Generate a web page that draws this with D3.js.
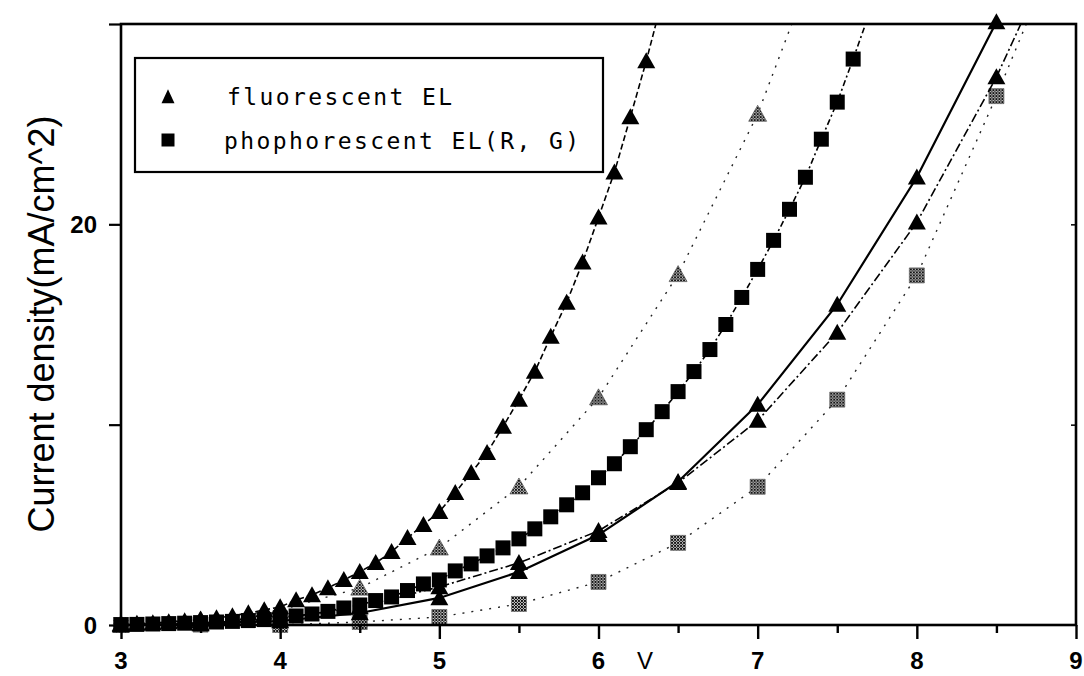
<!DOCTYPE html>
<html lang="en">
<head>
<meta charset="utf-8">
<script src="https://d3js.org/d3.v7.min.js"></script>
<style>
  body { margin: 0; background: #fff; }
  svg { display: block; }
  .tick-label { font-family: "Liberation Sans", Arial, sans-serif; font-weight: bold; font-size: 24px; }
  .legend-text { font-family: "DejaVu Sans Mono", monospace; font-size: 23px; letter-spacing: 2.4px; }
</style>
</head>
<body>
<script>

// fluorescent EL, fine voltage sweep (black triangles, dashed)
var fluorV = [3.0,3.1,3.2,3.3,3.4,3.5,3.6,3.7,3.8,3.9,4.0,4.1,4.2,4.3,4.4,4.5,4.6,4.7,4.8,4.9,
              5.0,5.1,5.2,5.3,5.4,5.5,5.6,5.7,5.8,5.9,6.0,6.1,6.2,6.3,6.4];
var fluorJ = [0.05,0.07,0.1,0.15,0.2,0.28,0.35,0.45,0.6,0.75,0.9,1.25,1.5,1.85,2.25,2.65,3.1,3.65,4.35,5.0,
              5.65,6.6,7.6,8.6,9.9,11.25,12.65,14.4,16.1,18.1,20.35,22.6,25.35,28.15,31.2];

// phophorescent EL (R, G), fine sweep (black squares)
var phosV = [3.0,3.1,3.2,3.3,3.4,3.5,3.6,3.7,3.8,3.9,4.0,4.1,4.2,4.3,4.4,4.5,4.6,4.7,4.8,4.9,
             5.0,5.1,5.2,5.3,5.4,5.5,5.6,5.7,5.8,5.9,6.0,6.1,6.2,6.3,6.4,6.5,6.6,6.7,6.8,6.9,
             7.0,7.1,7.2,7.3,7.4,7.5,7.6,7.7];
var phosJ = [0.02,0.03,0.05,0.07,0.09,0.12,0.15,0.18,0.22,0.27,0.35,0.45,0.55,0.68,0.85,1.0,1.22,1.4,1.72,2.05,
             2.25,2.7,3.05,3.45,3.85,4.3,4.8,5.4,6.0,6.6,7.35,8.05,8.9,9.75,10.65,11.65,12.65,13.75,15.0,16.35,
             17.75,19.2,20.75,22.35,24.25,26.1,28.25,30.5];

// coarse sweeps, 0.5 V steps
var coarseV = [3.0,3.5,4.0,4.5,5.0,5.5,6.0,6.5,7.0,7.5,8.0,8.5,9.0];
var grayTriJ = [0.05,0.25,0.75,1.85,3.85,6.9,11.35,17.5,25.5,36.0];
var solidTriJ = [0.0,0.05,0.2,0.6,1.35,2.65,4.5,7.15,11.0,16.0,22.35,30.1];
var dashTriJ = [0.0,0.08,0.3,0.9,1.9,3.1,4.7,7.1,10.2,14.6,20.1,27.35,36.0];
var graySqJ = [0.0,0.02,0.0,0.15,0.4,1.05,2.15,4.1,6.9,11.25,17.45,26.4,36.0];

var xTicks = [3,4,5,6,7,8,9];
var yTicks = [0,10,20,30];
var yLabels = [0,20];

const w = 1084, h = 676;
const pLeft = 121, pRight = 1076, pTop = 24, pBottom = 625;

const x = d3.scaleLinear().domain([3, 9]).range([pLeft, pRight]);
const y = d3.scaleLinear().domain([0, 30]).range([pBottom, pTop]);

const svg = d3.select("body").append("svg").attr("width", w).attr("height", h);

const defs = svg.append("defs");
defs.append("clipPath").attr("id", "plot")
  .append("rect").attr("x", pLeft).attr("y", pTop).attr("width", pRight - pLeft).attr("height", pBottom - pTop);
const pat = defs.append("pattern").attr("id", "hatch")
  .attr("patternUnits", "userSpaceOnUse").attr("width", 3).attr("height", 3);
pat.append("rect").attr("width", 3).attr("height", 3).attr("fill", "#c8c8c8");
pat.append("path").attr("d", "M0,0L3,3M3,0L0,3").attr("stroke", "#000").attr("stroke-width", 0.9);

function zip(vs, js) {
  return js.map((j, i) => ({v: vs[i], j: j}));
}

// slightly flat triangle, like the plotter glyph
function triPath(wd, ht) {
  return "M0," + (-ht * 0.55) + "L" + (wd / 2) + "," + (ht * 0.45) + "L" + (-wd / 2) + "," + (ht * 0.45) + "Z";
}
function sqPath(s) {
  return "M" + (-s / 2) + "," + (-s / 2) + "h" + s + "v" + s + "h" + (-s) + "Z";
}

const series = [
  {data: zip(coarseV, graySqJ), dash: "2,7", width: 1.4, color: "#222", shape: "sq", fill: "url(#hatch)"},
  {data: zip(coarseV, grayTriJ), dash: "2,7", width: 1.4, color: "#222", shape: "tri", fill: "url(#hatch)"},
  {data: zip(coarseV, dashTriJ), dash: "9,3,2,3", width: 1.6, color: "#000", shape: "tri", fill: "#000"},
  {data: zip(coarseV, solidTriJ), dash: null, width: 2.2, color: "#000", shape: "tri", fill: "#000"},
  {data: zip(phosV, phosJ), dash: "6,3,2,3", width: 1.6, color: "#000", shape: "sq", fill: "#000"},
  {data: zip(fluorV, fluorJ), dash: "6,3", width: 1.6, color: "#000", shape: "tri", fill: "#000"}
];

const line = d3.line().x(d => x(d.v)).y(d => y(d.j));

series.forEach(s => {
  svg.append("path")
    .datum(s.data)
    .attr("clip-path", "url(#plot)")
    .attr("fill", "none")
    .attr("stroke", s.color)
    .attr("stroke-width", s.width)
    .attr("stroke-dasharray", s.dash)
    .attr("d", line);

  svg.append("g").selectAll("path")
    .data(s.data.filter(d => d.j <= 30.2))
    .enter()
    .append("path")
    .attr("transform", d => "translate(" + x(d.v) + "," + y(d.j) + ")")
    .attr("d", s.shape == "tri" ? triPath(18, 16) : sqPath(15))
    .attr("fill", s.fill)
    .attr("stroke", s.fill == "#000" ? "none" : "#444")
    .attr("stroke-width", 0.6);
});

// frame
svg.append("rect")
  .attr("x", pLeft).attr("y", pTop)
  .attr("width", pRight - pLeft).attr("height", pBottom - pTop)
  .attr("fill", "none").attr("stroke", "#000").attr("stroke-width", 2.6);

// x axis
const xAxis = d3.axisBottom(x)
  .tickValues(d3.range(3, 9.01, 0.5))
  .tickSize(0)
  .tickFormat("");
const gx = svg.append("g").attr("transform", "translate(0," + pBottom + ")").call(xAxis);
gx.select(".domain").remove();
gx.selectAll(".tick line")
  .attr("y2", d => Number.isInteger(d) ? 14 : 8)
  .attr("stroke-width", 2.4);
svg.append("g").selectAll("text")
  .data(xTicks)
  .enter()
  .append("text")
  .attr("class", "tick-label")
  .attr("x", d => x(d))
  .attr("y", 669)
  .attr("text-anchor", "middle")
  .text(d => d);

// y axis
const yAxis = d3.axisLeft(y).tickValues(yTicks).tickSize(12).tickFormat("");
const gy = svg.append("g").attr("transform", "translate(" + pLeft + ",0)").call(yAxis);
gy.select(".domain").remove();
gy.selectAll(".tick line").attr("stroke-width", 2.2);
svg.append("g").selectAll("text")
  .data(yLabels)
  .enter()
  .append("text")
  .attr("class", "tick-label")
  .attr("x", 97)
  .attr("y", d => y(d))
  .attr("dy", "0.36em")
  .attr("text-anchor", "end")
  .text(d => d);

// right axis inner ticks
const yAxisR = d3.axisLeft(y).tickValues([10, 20]).tickSize(5).tickFormat("");
const gyr = svg.append("g").attr("transform", "translate(" + pRight + ",0)").call(yAxisR);
gyr.select(".domain").remove();
gyr.selectAll(".tick line").attr("stroke-width", 1.5);

// axis titles
svg.append("text")
  .attr("transform", "translate(54," + 324 + ") rotate(-90)")
  .attr("text-anchor", "middle")
  .style("font-family", "'Liberation Sans', Arial, sans-serif")
  .style("font-size", "36px")
  .text("Current density(mA/cm^2)");

svg.append("text")
  .attr("x", 645)
  .attr("y", 669)
  .attr("text-anchor", "middle")
  .style("font-family", "'Liberation Sans', Arial, sans-serif")
  .style("font-size", "24px")
  .text("V");

// legend
const lg = svg.append("g");
lg.append("rect")
  .attr("x", 135).attr("y", 58).attr("width", 468).attr("height", 114)
  .attr("fill", "#fff").attr("stroke", "#000").attr("stroke-width", 2.2);
lg.append("path").attr("transform", "translate(168,97)").attr("d", triPath(13, 14)).attr("fill", "#000");
lg.append("path").attr("transform", "translate(168,140)").attr("d", sqPath(13)).attr("fill", "#000");
lg.append("text").attr("class", "legend-text").attr("x", 227).attr("y", 105).text("fluorescent EL");
lg.append("text").attr("class", "legend-text").attr("x", 224).attr("y", 149).text("phophorescent EL(R, G)");

</script>
</body>
</html>
